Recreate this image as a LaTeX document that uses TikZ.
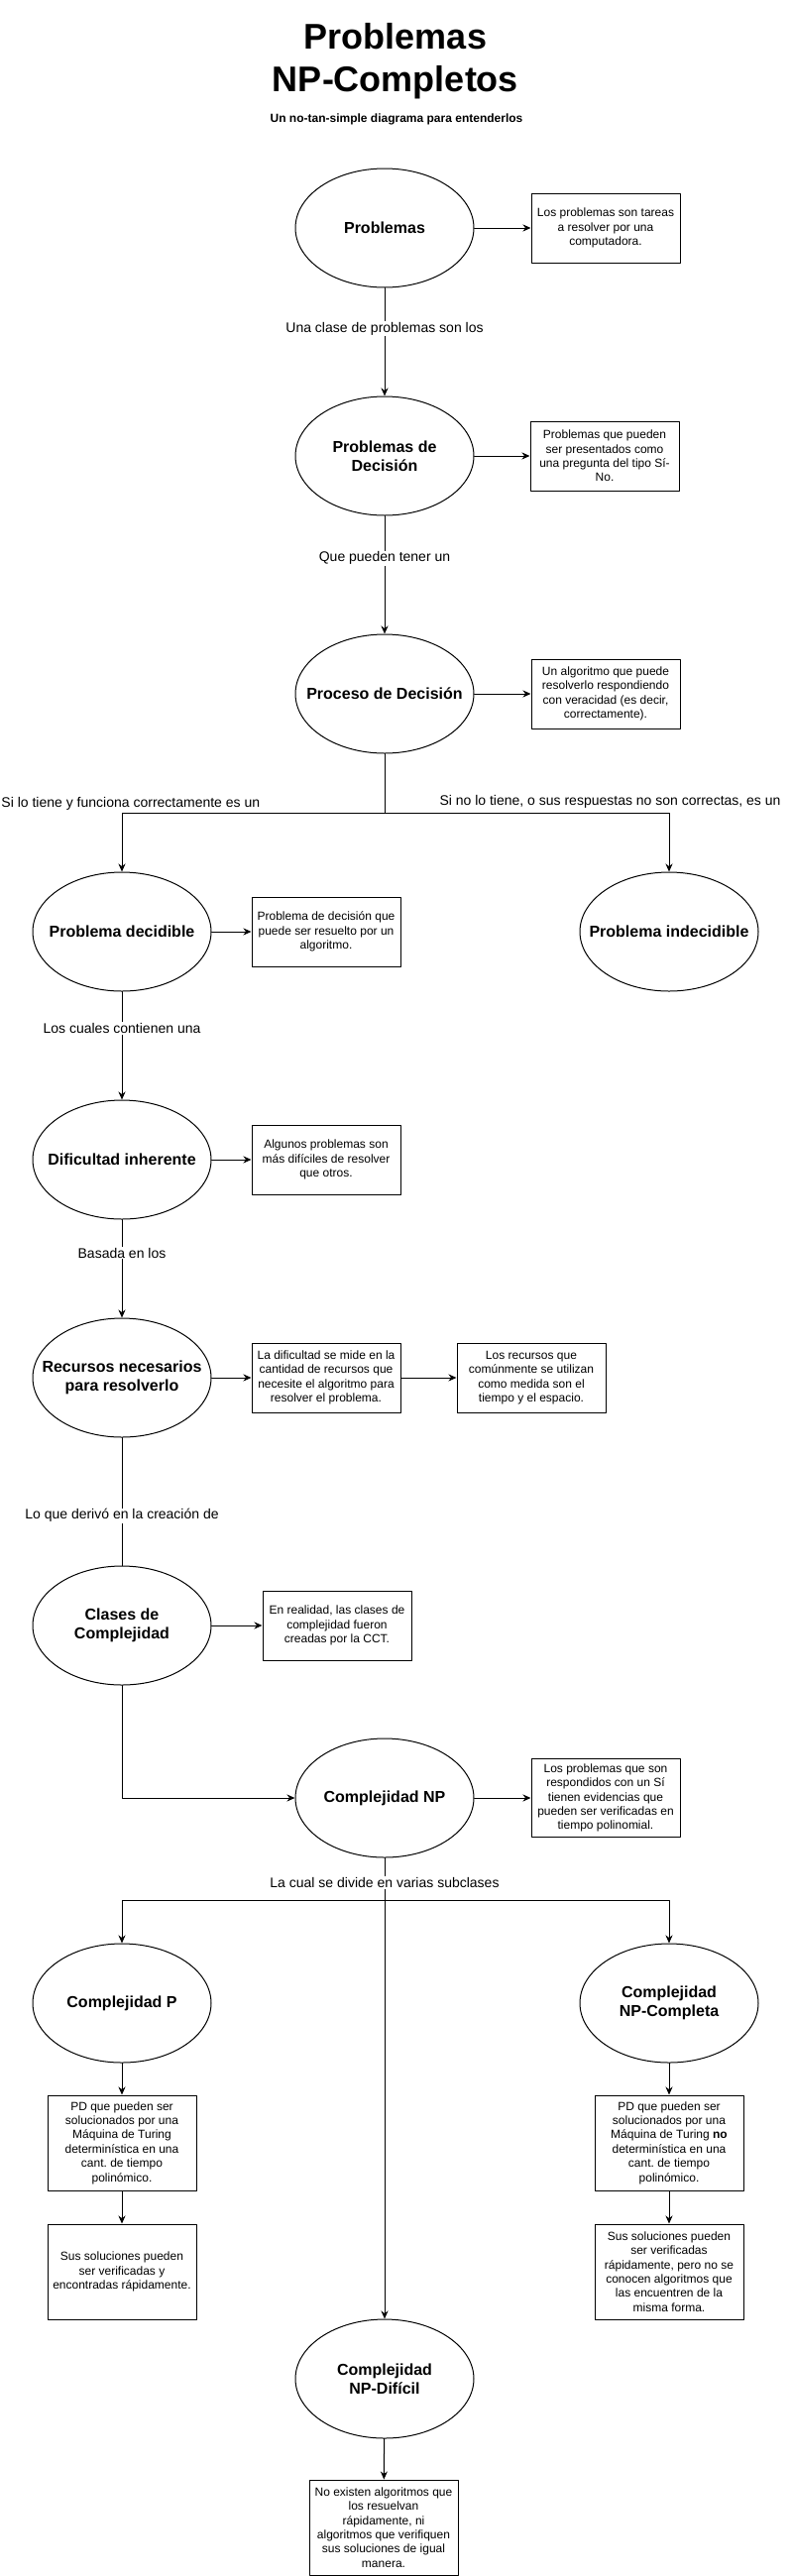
\documentclass[tikz,border=0pt]{standalone}
\usepackage{fontspec}
\setmainfont{Liberation Sans}
\usetikzlibrary{shapes.geometric,arrows.meta}
\frenchspacing

\tikzset{
  concept/.style={ellipse, draw, line width=1pt, minimum width=180pt, minimum height=120pt,
    inner xsep=-20pt, inner ysep=0pt, align=center, font=\bfseries\fontsize{16}{19.2}\selectfont},
  note/.style={rectangle, draw, line width=1pt, minimum width=150pt, minimum height=70pt,
    inner sep=1pt, align=center, font=\fontsize{12}{14.4}\selectfont},
  linklabel/.style={fill=white, inner sep=1pt, font=\fontsize{14}{16.8}\selectfont},
  branchlabel/.style={inner sep=0pt, font=\fontsize{14}{16.8}\selectfont},
}

\begin{document}
\begin{tikzpicture}[x=1pt, y=-1pt, line width=1pt, line cap=round, line join=round,
  >={Stealth[length=8pt, width=7pt, inset=2.5pt]}]
\useasboundingbox (0,0) rectangle (799,2599);

\node[align=center, inner sep=0pt, font=\bfseries\fontsize{36}{43.2}\selectfont] (title) at (399,62) {Problemas\\NP-Completos};
\node[anchor=base, inner sep=0pt, font=\bfseries\fontsize{12}{14.4}\selectfont] (subtitle) at (400,123) {Un no-tan-simple diagrama para entenderlos};

\node[concept] (prob) at (388,230) {Problemas};
\node[note] (nprob) at (611,230) {Los problemas son tareas\\a resolver por una\\computadora.};
\node[concept] (pdd) at (388,460) {Problemas de\\Decisión};
\node[note] (npdd) at (610,460) {Problemas que pueden\\ser presentados como\\una pregunta del tipo Sí-\\No.};
\node[concept] (pdec) at (388,700) {Proceso de Decisión};
\node[note] (npdec) at (611,700) {Un algoritmo que puede\\resolverlo respondiendo\\con veracidad (es decir,\\correctamente).};
\coordinate (split1) at (388,820);

\node[concept] (decid) at (123,940) {Problema decidible};
\node[note] (ndecid) at (329,940) {Problema de decisión que\\puede ser resuelto por un\\algoritmo.};
\node[concept] (indecid) at (675,940) {Problema indecidible};
\node[branchlabel, anchor=base west] (lsi) at (1,814) {Si lo tiene y funciona correctamente es un};
\node[branchlabel, anchor=base east] (lno) at (788,812) {Si no lo tiene, o sus respuestas no son correctas, es un};

\node[concept] (dific) at (123,1170) {Dificultad inherente};
\node[note] (ndific) at (329,1170) {Algunos problemas son\\más difíciles de resolver\\que otros.};
\node[concept] (recur) at (123,1390) {Recursos necesarios\\para resolverlo};
\node[note] (nrecur) at (329,1390) {La dificultad se mide en la\\cantidad de recursos que\\necesite el algoritmo para\\resolver el problema.};
\node[note] (nrecurb) at (536,1390) {Los recursos que\\comúnmente se utilizan\\como medida son el\\tiempo y el espacio.};
\node[concept] (clases) at (123,1640) {Clases de\\Complejidad};
\node[note] (nclases) at (340,1640) {En realidad, las clases de\\complejidad fueron\\creadas por la CCT.};

\node[concept] (np) at (388,1814) {Complejidad NP};
\node[note, minimum height=79pt] (nnp) at (611,1814) {Los problemas que son\\respondidos con un Sí\\tienen evidencias que\\pueden ser verificadas en\\tiempo polinomial.};
\coordinate (split2) at (388,1917);

\node[concept] (cp) at (123,2021) {Complejidad P};
\node[note, minimum height=96pt] (ncpa) at (123,2162) {PD que pueden ser\\solucionados por una\\Máquina de Turing\\determinística en una\\cant. de tiempo\\polinómico.};
\node[note, minimum height=96pt] (ncpb) at (123,2292) {Sus soluciones pueden\\ser verificadas y\\encontradas rápidamente.};
\node[concept] (cnpc) at (675,2021) {Complejidad\\NP-Completa};
\node[note, minimum height=96pt] (ncnpca) at (675,2162) {PD que pueden ser\\solucionados por una\\Máquina de Turing \textbf{no}\\determinística en una\\cant. de tiempo\\polinómico.};
\node[note, minimum height=96pt] (ncnpcb) at (675,2292) {Sus soluciones pueden\\ser verificadas\\rápidamente, pero no se\\conocen algoritmos que\\las encuentren de la\\misma forma.};
\node[concept] (cnpd) at (388,2400) {Complejidad\\NP-Difícil};
\node[note, minimum height=96pt] (ncnpd) at (387,2550) {No existen algoritmos que\\los resuelvan\\rápidamente, ni\\algoritmos que verifiquen\\sus soluciones de igual\\manera.};

\draw[->] (prob) -- (nprob);
\draw[->] (pdd) -- (npdd);
\draw[->] (pdec) -- (npdec);
\draw[->] (decid) -- (ndecid);
\draw[->] (dific) -- (ndific);
\draw[->] (recur) -- (nrecur);
\draw[->] (nrecur) -- (nrecurb);
\draw[->] (clases) -- (nclases);
\draw[->] (np) -- (nnp);

\draw[->] (prob) -- (pdd) node[linklabel, pos=0.38] {Una clase de problemas son los};
\draw[->] (pdd) -- (pdec) node[linklabel, pos=0.36] {Que pueden tener un};
\draw (pdec) -- (split1);
\draw[->] (split1) -| (decid.north);
\draw[->] (split1) -| (indecid.north);
\draw[->] (decid) -- (dific) node[linklabel, pos=0.34] {Los cuales contienen una};
\draw[->] (dific) -- (recur) node[linklabel, pos=0.34] {Basada en los};
\draw (recur) -- (clases) node[linklabel, pos=0.61] {Lo que derivó en la creación de};
\draw[->] (clases.south) |- (np.west);

\draw[->] (np) -- (cnpd) node[linklabel, pos=0.054] {La cual se divide en varias subclases};
\draw[->] (split2) -| (cp.north);
\draw[->] (split2) -| (cnpc.north);
\draw[->] (cp) -- (ncpa);
\draw[->] (ncpa) -- (ncpb);
\draw[->] (cnpc) -- (ncnpca);
\draw[->] (ncnpca) -- (ncnpcb);
\draw[->] (cnpd) -- (ncnpd);
\end{tikzpicture}
\end{document}
